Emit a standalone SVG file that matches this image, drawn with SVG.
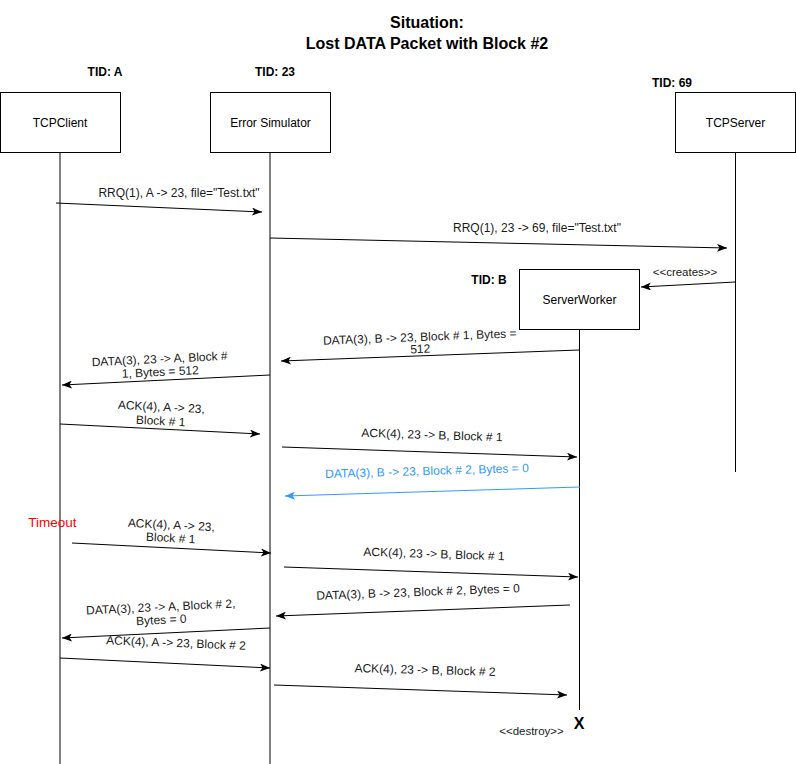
<svg xmlns="http://www.w3.org/2000/svg" width="796" height="764" viewBox="0 0 796 764">
  <style>
    text { font-family: "Liberation Sans", Arial, Helvetica, sans-serif; }
    .title { font-size: 16px; font-weight: bold; fill: #000; text-anchor: middle; }
    .tid { font-size: 12px; font-weight: bold; fill: #000; text-anchor: middle; }
    .box { fill: #fff; stroke: #000; stroke-width: 1; }
    .name { font-size: 12px; fill: #000; text-anchor: middle; dominant-baseline: central; }
    .life { stroke: #000; stroke-width: 1; fill: none; }
    .msg { stroke: #000; stroke-width: 1; fill: none; marker-end: url(#head); }
    .msg.lost { stroke: #3399ff; marker-end: url(#headBlue); }
    .lbl { font-size: 12px; fill: #1a1a1a; text-anchor: middle; dominant-baseline: central; }
    .lbl.lost { fill: #3399ff; }
    .small { font-size: 11.5px; fill: #1a1a1a; text-anchor: middle; dominant-baseline: central; }
    .timeout { font-size: 13.5px; fill: #ff0000; text-anchor: middle; dominant-baseline: central; }
    .destroy { font-size: 16px; font-weight: bold; fill: #000; text-anchor: middle; dominant-baseline: central; }
  </style>
  <defs>
    <marker id="head" markerUnits="userSpaceOnUse" markerWidth="10" markerHeight="8" refX="10" refY="4" orient="auto">
      <path d="M0,0 L10,4 L0,8 L2.5,4 Z" fill="#000"/>
    </marker>
    <marker id="headBlue" markerUnits="userSpaceOnUse" markerWidth="10" markerHeight="8" refX="10" refY="4" orient="auto">
      <path d="M0,0 L10,4 L0,8 L2.5,4 Z" fill="#3399ff"/>
    </marker>
  </defs>

  <rect width="796" height="764" fill="#fff"/>

  <!-- title -->
  <text class="title" x="427" y="28">Situation:</text>
  <text class="title" x="427" y="49">Lost DATA Packet with Block #2</text>

  <!-- participants with their lifelines -->
  <g id="tcpclient">
    <text class="tid" x="105" y="76">TID: A</text>
    <line class="life" x1="60" y1="152" x2="60" y2="764"/>
    <rect class="box" x="0.5" y="92.5" width="120" height="60"/>
    <text class="name" x="60" y="122.5">TCPClient</text>
  </g>
  <g id="error-simulator">
    <text class="tid" x="275" y="76">TID: 23</text>
    <line class="life" x1="270" y1="152" x2="270" y2="764"/>
    <rect class="box" x="210.5" y="92.5" width="120" height="60"/>
    <text class="name" x="270.5" y="122.5">Error Simulator</text>
  </g>
  <g id="tcpserver">
    <text class="tid" x="672" y="87">TID: 69</text>
    <line class="life" x1="735.5" y1="152" x2="735.5" y2="472"/>
    <rect class="box" x="675.5" y="92.5" width="120" height="60"/>
    <text class="name" x="735.5" y="122.5">TCPServer</text>
  </g>
  <g id="serverworker">
    <text class="tid" x="489" y="284">TID: B</text>
    <line class="life" x1="579.5" y1="329" x2="579.5" y2="710"/>
    <rect class="box" x="519.5" y="269.5" width="120" height="60"/>
    <text class="name" x="579.5" y="299.5">ServerWorker</text>
    <text class="destroy" x="579" y="723">X</text>
    <text class="small" x="531.5" y="731">&lt;&lt;destroy&gt;&gt;</text>
  </g>

  <!-- messages -->
  <g id="connectors">
    <line class="msg" x1="56" y1="203" x2="262" y2="212"/>
    <text class="lbl" x="179" y="193">RRQ(1), A -&gt; 23, file="Test.txt"</text>

    <line class="msg" x1="270" y1="238" x2="727" y2="248"/>
    <text class="lbl" x="537" y="228">RRQ(1), 23 -&gt; 69, file="Test.txt"</text>

    <line class="msg" x1="735" y1="282" x2="641" y2="287"/>
    <text class="small" x="685" y="272">&lt;&lt;creates&gt;&gt;</text>

    <line class="msg" x1="579" y1="350" x2="281" y2="361"/>
    <g transform="rotate(-2.2 420 343)">
      <text class="lbl" x="420" y="337">DATA(3), B -&gt; 23, Block # 1, Bytes =</text>
      <text class="lbl" x="420" y="349">512</text>
    </g>

    <line class="msg" x1="270" y1="375" x2="62" y2="385"/>
    <g transform="rotate(-2.7 160 366)">
      <text class="lbl" x="160" y="359">DATA(3), 23 -&gt; A, Block #</text>
      <text class="lbl" x="160" y="372">1, Bytes = 512</text>
    </g>

    <line class="msg" x1="60" y1="424" x2="260" y2="434"/>
    <g transform="rotate(2.9 161 414)">
      <text class="lbl" x="161" y="407">ACK(4), A -&gt; 23,</text>
      <text class="lbl" x="161" y="421">Block # 1</text>
    </g>

    <line class="msg" x1="282" y1="447" x2="577" y2="457"/>
    <text class="lbl" transform="rotate(1.9 432 435)" x="432" y="435">ACK(4), 23 -&gt; B, Block # 1</text>

    <line class="msg lost" x1="580" y1="487" x2="285" y2="496"/>
    <text class="lbl lost" transform="rotate(-1.7 427 471)" x="427" y="471">DATA(3), B -&gt; 23, Block # 2, Bytes = 0</text>

    <text class="timeout" x="52.5" y="522">Timeout</text>

    <line class="msg" x1="72" y1="543" x2="271" y2="553"/>
    <g transform="rotate(2.9 171 531)">
      <text class="lbl" x="171" y="525">ACK(4), A -&gt; 23,</text>
      <text class="lbl" x="171" y="538">Block # 1</text>
    </g>

    <line class="msg" x1="284" y1="567" x2="578" y2="577"/>
    <text class="lbl" transform="rotate(1.9 434 554)" x="434" y="554">ACK(4), 23 -&gt; B, Block # 1</text>

    <line class="msg" x1="570" y1="605" x2="276" y2="616"/>
    <text class="lbl" transform="rotate(-2.1 418 592)" x="418" y="592">DATA(3), B -&gt; 23, Block # 2, Bytes = 0</text>

    <line class="msg" x1="270" y1="628" x2="62" y2="638"/>
    <g transform="rotate(-2.75 161 613)">
      <text class="lbl" x="161" y="607">DATA(3), 23 -&gt; A, Block # 2,</text>
      <text class="lbl" x="161" y="620">Bytes = 0</text>
    </g>

    <line class="msg" x1="60" y1="658" x2="270" y2="668"/>
    <text class="lbl" transform="rotate(2.2 176 643)" x="176" y="643">ACK(4), A -&gt; 23, Block # 2</text>

    <line class="msg" x1="274" y1="685" x2="567" y2="695"/>
    <text class="lbl" transform="rotate(1.5 425 670)" x="425" y="670">ACK(4), 23 -&gt; B, Block # 2</text>
  </g>
</svg>
